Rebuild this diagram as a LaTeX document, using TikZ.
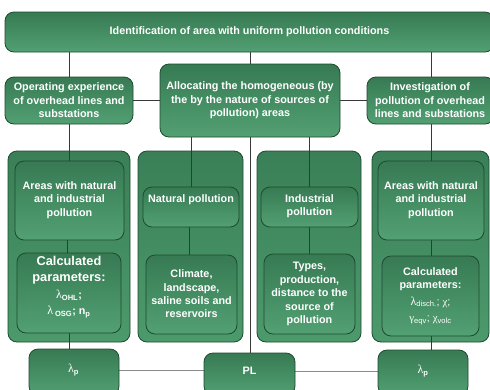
\documentclass[tikz,border=0pt]{standalone}
\usepackage{fontspec}
\setmainfont{Liberation Sans}
\newfontfamily\gr{Liberation Serif}
\definecolor{bord}{HTML}{1E4A30}
\definecolor{gtop}{HTML}{377A53}
\definecolor{gbot}{HTML}{52A073}
\definecolor{grtop}{HTML}{3A7F57}
\definecolor{grbot}{HTML}{4C9A6C}
\definecolor{ln}{HTML}{383838}
\definecolor{lnl}{HTML}{8A8A8A}
\pgfdeclarelayer{grp}
\pgfdeclarelayer{conn}
\pgfsetlayers{grp,conn,main}
\tikzset{
 box/.style={draw=bord, line width=0.8pt, rounded corners=9pt, top color=gtop, bottom color=gbot, inner sep=0pt},
 grpbox/.style={box, top color=grtop, bottom color=grbot},
 txt/.style={text=white, font=\fontsize{10.8}{13.4}\selectfont\bfseries, align=center, inner sep=0pt},
 bigtxt/.style={txt, font=\fontsize{12.8}{16}\selectfont\bfseries},
 conn/.style={draw=ln, line width=0.8pt},
 connl/.style={draw=lnl, line width=0.9pt},
}
\newcommand\bx[6][box]{\node[#1,minimum width={#5-#3},minimum height={#6-#4}] (#2) at ({(#3+#5)/2},{(#4+#6)/2}) {};}
\newcommand\lam{{\gr\mdseries\fontsize{12}{12}\selectfont λ}}
\newcommand\gsym[1]{{\gr\mdseries #1}}
\newcommand\sbs[1]{\textsubscript{#1}}
\begin{document}
\begin{tikzpicture}[x=1pt,y=-1pt]
\useasboundingbox (0,0) rectangle (490,389);
% groups
\begin{pgfonlayer}{grp}
\bx[grpbox]{g1}{8}{151}{130}{342}
\bx[grpbox]{g2}{138}{151}{243}{342}
\bx[grpbox]{g3}{257}{151}{361}{342}
\bx[grpbox]{g4}{372}{151}{489}{342}
\end{pgfonlayer}
% boxes
\bx{top}{5}{12}{494}{52}
\bx{op}{5}{77}{133}{124}
\bx{al}{160}{64}{340}{137}
\bx{inv}{367}{77}{494}{124}
\bx{aa}{15}{161}{124}{240}
\bx{ca}{17}{253}{121}{333}
\bx{nat}{143}{187}{239}{227}
\bx{cli}{146}{255}{237}{334}
\bx{ind}{261}{187}{358}{227}
\bx{typ}{264}{254}{355}{334}
\bx{ab}{378}{161}{484}{240}
\bx{cb}{382}{256}{479}{336}
\bx{lpa}{29}{349}{119}{395}
\bx{pl}{204}{353}{295}{395}
\bx{lpb}{378}{350}{468}{395}
% texts
\node[txt] (topt) at (249.5,32) {Identification of area with uniform pollution conditions};
\node[txt] (opt) at (69,100.5) {Operating experience\\of overhead lines and\\substations};
\node[txt] (alt) at (250,100.5) {Allocating the homogeneous (by\\the by the nature of sources of\\pollution) areas};
\node[txt] (invt) at (430,100.5) {Investigation of\\pollution of overhead\\lines and substations};
\node[txt] (aat) at (69.5,200) {Areas with natural\\and industrial\\pollution};
\node[bigtxt] (cat) at (69,287) {Calculated\\parameters:\\[1pt]
 {\fontsize{10.8}{16}\selectfont\lam\sbs{OHL};}\\
 {\fontsize{10.8}{16}\selectfont\lam\,\sbs{OSG}; n\sbs{p}}};
\node[txt] (natt) at (191,200) {Natural pollution};
\node[txt] (clit) at (191.5,294) {Climate,\\landscape,\\saline soils and\\reservoirs};
\node[txt] (indt) at (309.5,206.5) {Industrial\\pollution};
\node[txt] (typt) at (309.5,294) {Types,\\production,\\distance to the\\source of\\pollution};
\node[txt] (abt) at (431,200) {Areas with natural\\and industrial\\pollution};
\node[txt, font=\fontsize{10.8}{13.5}\selectfont\bfseries] (cbt) at (430.5,296) {Calculated\\parameters:\\[3pt]
 {\mdseries\lam\sbs{disch.}; \gsym{χ};}\\[3pt]
 {\mdseries\gsym{γ}\sbs{eqv}; \gsym{χ}\sbs{volc}}};
\node[txt] (lpat) at (73.5,370) {\lam\sbs{p}};
\node[txt] (plt) at (249.5,371) {PL};
\node[txt] (lpbt) at (423,371) {\lam\sbs{p}};
% connectors
\begin{pgfonlayer}{conn}
\draw[conn] (op.north |- top.south) -- (op.north);
\draw[conn] (al.north |- top.south) -- (al.north);
\draw[conn] (ab.north |- top.south) -- (ab.north |- inv.north);
\draw[conn] (op.east) -- (op.east -| al.west);
\draw[conn] (al.east |- inv.west) -- (inv.west);
\draw[conn] (op.south) -- (op.south |- aa.north);
\draw[conn] ([xshift=-2]aa.south) -- ([xshift=-2]aa.south |- ca.north);
\draw[conn] (ca.south) -- (ca.south |- lpa.north);
\draw[conn] (nat.north |- al.south) -- (nat.north);
\draw[conn] ([xshift=-2]nat.south) -- ([xshift=-2]nat.south |- cli.north);
\draw[conn] (al.south) -- (al.south |- pl.north);
\draw[conn] (ind.north |- al.south) -- (ind.north);
\draw[conn] (ind.south) -- (ind.south |- typ.north);
\draw[conn] (ab.north |- inv.south) -- (ab.north);
\draw[conn] (ab.south) -- (ab.south |- cb.north);
\draw[conn] (ab.south |- cb.south) -- (ab.south |- lpb.north);
\draw[connl] (lpa.east |- lpat) -- (pl.west |- lpat);
\draw[connl] (pl.east |- lpbt) -- (lpb.west |- lpbt);
\end{pgfonlayer}
\end{tikzpicture}
\end{document}
